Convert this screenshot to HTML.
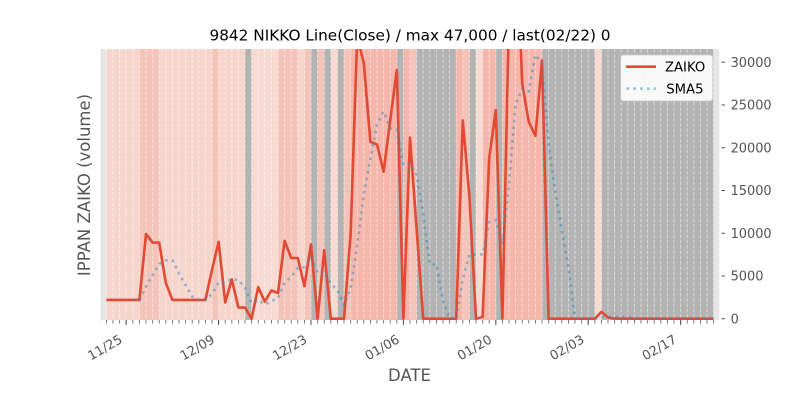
<!DOCTYPE html>
<html>
<head>
<meta charset="utf-8">
<style>
html,body{margin:0;padding:0;background:#fff;}
svg{display:block;}
text{font-family:"DejaVu Sans","Liberation Sans",sans-serif;}
</style>
</head>
<body>
<svg width="800" height="400" viewBox="0 0 800 400" xmlns="http://www.w3.org/2000/svg">
<defs>
<clipPath id="plot"><rect x="100.5" y="49" width="618.8" height="271"/></clipPath>
<pattern id="grid" patternUnits="userSpaceOnUse" x="103.1" y="49" width="6.6" height="5.3">
<rect x="2.9" y="0" width="0.8" height="3.7" fill="#fff" fill-opacity="0.6"/>
</pattern>
<pattern id="mtick" patternUnits="userSpaceOnUse" x="106" y="320" width="6.6" height="4">
<rect x="0" y="0" width="0.8" height="3.5" fill="#555"/>
</pattern>
</defs>
<rect x="0" y="0" width="800" height="400" fill="#fff"/>
<rect x="100.5" y="49" width="618.8" height="271" fill="#E5E5E5"/>
<g shape-rendering="crispEdges">
<rect x="106.4" y="49" width="33" height="271" fill="#F6D5CC"/>
<rect x="139.4" y="49" width="19.8" height="271" fill="#F4C3B9"/>
<rect x="159.2" y="49" width="52.8" height="271" fill="#F6D5CC"/>
<rect x="212" y="49" width="6.6" height="271" fill="#F4C3B9"/>
<rect x="218.6" y="49" width="26.4" height="271" fill="#F6D5CC"/>
<rect x="245" y="49" width="6.6" height="271" fill="#B3B3B3"/>
<rect x="251.6" y="49" width="26.4" height="271" fill="#F7DAD1"/>
<rect x="278" y="49" width="19.8" height="271" fill="#F4C3B9"/>
<rect x="297.8" y="49" width="6.6" height="271" fill="#F6D5CC"/>
<rect x="304.4" y="49" width="6.6" height="271" fill="#F4C3B9"/>
<rect x="311" y="49" width="6.6" height="271" fill="#B3B3B3"/>
<rect x="317.6" y="49" width="6.6" height="271" fill="#F4C3B9"/>
<rect x="324.2" y="49" width="6.6" height="271" fill="#B3B3B3"/>
<rect x="330.8" y="49" width="6.6" height="271" fill="#F7DAD1"/>
<rect x="337.4" y="49" width="6.6" height="271" fill="#B3B3B3"/>
<rect x="344" y="49" width="6.6" height="271" fill="#F4C3B9"/>
<rect x="350.6" y="49" width="46.2" height="271" fill="#F5B6AB"/>
<rect x="396.8" y="49" width="6.6" height="271" fill="#B3B3B3"/>
<rect x="403.4" y="49" width="6.6" height="271" fill="#F5B6AB"/>
<rect x="410" y="49" width="6.6" height="271" fill="#F4C3B9"/>
<rect x="416.6" y="49" width="39.6" height="271" fill="#B3B3B3"/>
<rect x="456.2" y="49" width="6.6" height="271" fill="#F5B6AB"/>
<rect x="462.8" y="49" width="6.6" height="271" fill="#F4C3B9"/>
<rect x="469.4" y="49" width="6.6" height="271" fill="#B3B3B3"/>
<rect x="476" y="49" width="6.6" height="271" fill="#F7DAD1"/>
<rect x="482.6" y="49" width="13.2" height="271" fill="#F5B6AB"/>
<rect x="495.8" y="49" width="6.6" height="271" fill="#B3B3B3"/>
<rect x="502.4" y="49" width="39.6" height="271" fill="#F5B6AB"/>
<rect x="542" y="49" width="52.8" height="271" fill="#B3B3B3"/>
<rect x="594.8" y="49" width="6.6" height="271" fill="#F7DAD1"/>
<rect x="601.4" y="49" width="112.2" height="271" fill="#B3B3B3"/>
</g>
<rect x="106" y="49" width="608" height="271" fill="url(#grid)"/>
<g clip-path="url(#plot)">
<polyline fill="none" stroke="#E24A33" stroke-width="2.6" stroke-linejoin="round" points="106.4,299.9 139.4,299.9 146,234.1 152.6,242.6 159.2,242.6 165.8,282.8 172.4,299.9 205.4,299.9 212,270 218.6,241.8 225.2,302.5 231.8,279.4 238.4,307.6 245,307.6 251.6,318.7 258.2,287.1 264.8,301.6 271.4,290.5 278,293.1 284.6,240.9 291.2,258 297.8,258 304.4,286.2 311,244.3 317.6,318.7 324.2,250.3 330.8,318.7 344,318.7 350.6,234.9 357.2,36.6 363.8,63.1 370.4,141.8 377,144.3 383.6,171.7 390.2,120.4 396.8,70 403.4,318.7 410,137.5 416.6,229 423.2,318.7 456.2,318.7 462.8,120.4 469.4,196.5 476,318.7 482.6,317 489.2,158 495.8,110.2 502.4,318.7 509,15.3 515.6,-83 522.2,83.7 528.8,122.1 535.4,135.8 542,60.6 548.6,318.7 594.8,318.7 601.4,311.9 608,317.4 614.6,318.7 713.6,318.7"/>
<polyline fill="none" stroke="#348ABD" stroke-opacity="0.5" stroke-width="2.6" stroke-dasharray="2.6 4.2" points="132.8,299.9 139.4,299.9 146,286.7 152.6,275.3 159.2,263.8 165.8,260.4 172.4,260.4 179,273.6 185.6,285 192.2,296.5 198.8,299.9 205.4,299.9 212,293.9 218.6,282.3 225.2,282.8 231.8,278.7 238.4,280.2 245,287.8 251.6,303.1 258.2,300.1 264.8,304.5 271.4,301.1 278,298.2 284.6,282.6 291.2,276.8 297.8,268.1 304.4,267.2 311,257.5 317.6,273.1 324.2,271.5 330.8,283.7 337.4,290.2 344,305 350.6,288.3 357.2,245.5 363.8,194.4 370.4,159 377,124.2 383.6,111.5 390.2,128.3 396.8,129.6 403.4,165 410,163.7 416.6,175.1 423.2,214.8 429.8,264.5 436.4,264.5 443,300.8 449.6,318.7 456.2,318.7 462.8,279 469.4,254.6 476,254.6 482.6,254.3 489.2,222.1 495.8,220.1 502.4,244.5 509,183.8 515.6,103.8 522.2,89 528.8,91.4 535.4,54.8 542,63.8 548.6,144.2 555.2,191.2 561.8,230.5 568.4,267.1 575,318.7 594.8,318.7 601.4,317.3 608,317.1 627.8,317.1 634.4,318.4 641,318.7 713.6,318.7"/>
</g>
<rect x="100.3" y="320" width="614.2" height="3.5" fill="url(#mtick)"/>
<path d="M126.2 320V325M218.6 320V325M311 320V325M403.4 320V325M495.8 320V325M588.2 320V325M680.6 320V325" stroke="#555" stroke-width="1" fill="none"/>
<g font-size="12.9" fill="#555" text-anchor="end">
<text transform="translate(123.2,342) rotate(-30)">11/25</text>
<text transform="translate(215.6,342) rotate(-30)">12/09</text>
<text transform="translate(308,342) rotate(-30)">12/23</text>
<text transform="translate(400.4,342) rotate(-30)">01/06</text>
<text transform="translate(492.8,342) rotate(-30)">01/20</text>
<text transform="translate(585.2,342) rotate(-30)">02/03</text>
<text transform="translate(677.6,342) rotate(-30)">02/17</text>
</g>
<path d="M721.5 318.7H725M721.5 276H725M721.5 233.2H725M721.5 190.5H725M721.5 147.8H725M721.5 105H725M721.5 62.3H725" stroke="#555" stroke-width="1" fill="none"/>
<g font-size="12.9" fill="#555">
<text x="730.6" y="323.4">0</text>
<text x="730.6" y="280.7">5000</text>
<text x="730.6" y="237.9">10000</text>
<text x="730.6" y="195.2">15000</text>
<text x="730.6" y="152.5">20000</text>
<text x="730.6" y="109.7">25000</text>
<text x="730.6" y="67">30000</text>
</g>
<rect x="620.7" y="55" width="92" height="46" rx="3" ry="3" fill="#fff" fill-opacity="0.9" stroke="#ccc" stroke-width="0.8"/>
<line x1="626" y1="66.7" x2="656" y2="66.7" stroke="#E24A33" stroke-width="2.6"/>
<line x1="626.5" y1="88.7" x2="656" y2="88.7" stroke="#348ABD" stroke-opacity="0.5" stroke-width="2.6" stroke-dasharray="2.6 4.2"/>
<g font-size="13.2" fill="#000">
<text x="665" y="71.5">ZAIKO</text>
<text x="666.3" y="93.5">SMA5</text>
</g>
<text x="410" y="40.5" font-size="15.3" fill="#000" text-anchor="middle">9842 NIKKO Line(Close) / max 47,000 / last(02/22) 0</text>
<text transform="translate(90,185) rotate(-90)" font-size="16.5" fill="#555" text-anchor="middle">IPPAN ZAIKO (volume)</text>
<text x="409.5" y="381" font-size="16.5" fill="#555" text-anchor="middle">DATE</text>
</svg>
</body>
</html>
